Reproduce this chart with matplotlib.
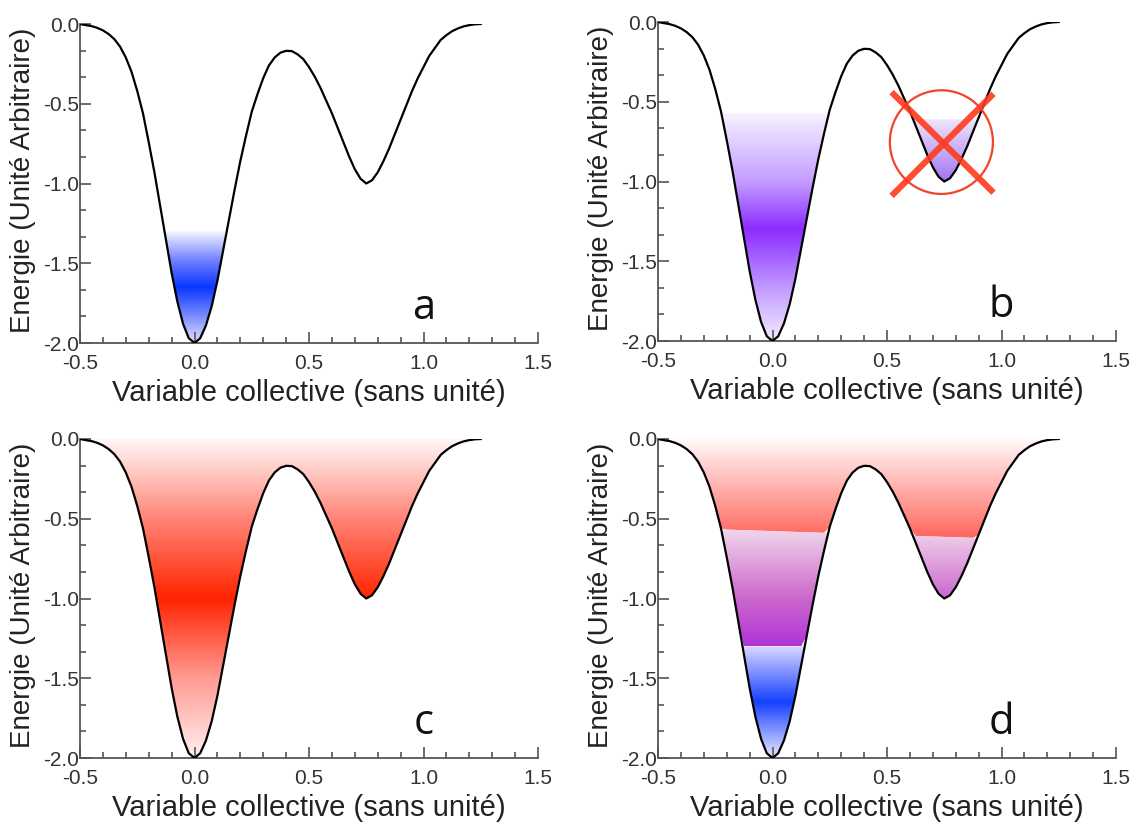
import numpy as np
import matplotlib.pyplot as plt
from matplotlib.colors import LinearSegmentedColormap
from matplotlib.path import Path
from matplotlib.patches import Ellipse
from matplotlib.ticker import MultipleLocator, FormatStrFormatter

plt.rcParams['font.family'] = ['Liberation Sans', 'DejaVu Sans']
plt.rcParams['axes.unicode_minus'] = False

# energy profile
curve_x = [-0.5, -0.475, -0.45, -0.425, -0.4, -0.375, -0.35, -0.325, -0.3, -0.275,
           -0.25, -0.225, -0.2, -0.175, -0.15, -0.125, -0.1, -0.075, -0.05, -0.025,
           0.0, 0.025, 0.05, 0.075, 0.1, 0.125, 0.15, 0.175, 0.2, 0.225,
           0.25, 0.275, 0.3, 0.325, 0.35, 0.375, 0.4, 0.425, 0.45, 0.475,
           0.5, 0.525, 0.55, 0.575, 0.6, 0.625, 0.65, 0.675, 0.7, 0.725,
           0.75, 0.775, 0.8, 0.825, 0.85, 0.875, 0.9, 0.925, 0.95, 0.975,
           1.0, 1.025, 1.05, 1.075, 1.1, 1.125, 1.15, 1.175, 1.2, 1.225, 1.25]
curve_y = [0.0, -0.007, -0.013, -0.024, -0.04, -0.063, -0.095, -0.142, -0.21, -0.30,
           -0.42, -0.56, -0.74, -0.93, -1.14, -1.35, -1.56, -1.74, -1.88, -1.97,
           -2.0, -1.97, -1.89, -1.77, -1.61, -1.42, -1.23, -1.04, -0.86, -0.70,
           -0.55, -0.44, -0.34, -0.26, -0.21, -0.18, -0.168, -0.17, -0.19, -0.22,
           -0.27, -0.33, -0.40, -0.48, -0.56, -0.65, -0.74, -0.83, -0.91, -0.97,
           -1.0, -0.98, -0.93, -0.86, -0.78, -0.69, -0.60, -0.51, -0.42, -0.34,
           -0.27, -0.20, -0.15, -0.10, -0.07, -0.045, -0.028, -0.015, -0.007, -0.002, 0.0]

barrier_x = 0.4

# fill levels
a_top = -1.3
b_top_left = -0.57
b_top_right = -0.61
d_blue_top = -1.3
d_red_left = (-0.26, -0.565)
d_red_right = (0.88, -0.62)

# colour stops (energy, colour)
a_levels = [-2.0, -1.82, -1.65, -1.48, -1.3]
a_colors = ['#e4e2ff', '#7385ff', '#0a36ff', '#7282ff', '#f4f5ff']
b_levels = [-2.0, -1.7, -1.3, -1.0, -0.57]
b_colors = ['#f3ecff', '#c6a2ff', '#8b2cff', '#c49dff', '#f8f3ff']
b2_levels = [-1.0, -0.61]
b2_colors = ['#a276f2', '#efe7fb']
c_levels = [-2.0, -1.5, -1.0, -0.5, 0.0]
c_colors = ['#fff0f0', '#ff9a92', '#ff2400', '#ff8476', '#fff7f6']
d_red_levels = [-0.62, 0.0]
d_red_colors = ['#ff665e', '#fff9f9']
d_pur_levels = [-1.3, -1.0, -0.57]
d_pur_colors = ['#b034d8', '#cc68cc', '#f1d6eb']
d_blue_levels = [-2.0, -1.65, -1.3]
d_blue_colors = ['#ece9ff', '#1540ff', '#dcd6ff']

cross_center = (0.7375, -0.753)
cross_size = (0.45, 0.65)
cross_lines = [((0.52, 0.965), (-0.44, -1.07)), ((0.52, 0.965), (-1.09, -0.45))]

letters = ['a', 'b', 'c', 'd']
letter_pos = (1.0, -1.78)

xs = np.array(curve_x)
ys = np.array(curve_y)


def gradient(ax, lower, upper, where, levels, colors):
    poly = ax.fill_between(xs, lower, upper, where=where, interpolate=True,
                           facecolor='none', edgecolor='none')
    clip = Path.make_compound_path(*poly.get_paths())
    poly.remove()
    lo, hi = levels[0], levels[-1]
    pos = [(v - lo) / (hi - lo) for v in levels]
    cmap = LinearSegmentedColormap.from_list('g', list(zip(pos, colors)))
    grad = np.linspace(0, 1, 400).reshape(-1, 1)
    im = ax.imshow(grad, cmap=cmap, extent=[-0.5, 1.5, lo, hi], origin='lower',
                   aspect='auto', interpolation='bilinear', zorder=1)
    im.set_clip_path(clip, transform=ax.transData)


def style(ax, letter):
    ax.plot(xs, ys, color='black', lw=1.6, zorder=3)
    ax.set_xlim(-0.5, 1.5)
    ax.set_ylim(-2.0, 0.0)
    ax.set_aspect('auto')
    for s in ['top', 'right']:
        ax.spines[s].set_visible(False)
    for s in ['left', 'bottom']:
        ax.spines[s].set_color('#555555')
        ax.spines[s].set_linewidth(1.3)
    ax.xaxis.set_major_locator(MultipleLocator(0.5))
    ax.xaxis.set_minor_locator(MultipleLocator(0.1))
    ax.yaxis.set_major_locator(MultipleLocator(0.5))
    ax.yaxis.set_minor_locator(MultipleLocator(0.5 / 3))
    ax.xaxis.set_major_formatter(FormatStrFormatter('%.1f'))
    ax.yaxis.set_major_formatter(FormatStrFormatter('%.1f'))
    ax.tick_params(which='both', direction='in', color='#555555', width=1.2,
                   labelcolor='#333333', labelsize=15)
    ax.tick_params(which='major', length=8)
    ax.tick_params(which='minor', length=4.5)
    ax.tick_params(axis='y', pad=0.5)
    ax.tick_params(axis='x', pad=8)
    ax.set_ylabel('Energie (Unité Arbitraire)', fontsize=20, color='#222222')
    ax.set_xlabel('Variable collective (sans unité)', fontsize=21, color='#222222')
    ax.yaxis.set_label_coords(-0.096, 0.51)
    ax.xaxis.set_label_coords(0.5, -0.112)
    ax.text(letter_pos[0], letter_pos[1], letter, fontsize=30, family='Open Sans',
            ha='center', va='center', color='#111111')


fig = plt.figure(figsize=(11.43, 8.23), dpi=100)
W, H = 1143, 823
boxes = [(80, 24), (658, 22), (80, 439), (658, 439)]
pw, ph = 458, 319
axes = [fig.add_axes([l / W, 1 - (t + ph) / H, pw / W, ph / H]) for l, t in boxes]

# a
ax = axes[0]
gradient(ax, ys, a_top, ys <= a_top, a_levels, a_colors)

# b
ax = axes[1]
gradient(ax, ys, b_top_left, (ys <= b_top_left) & (xs < barrier_x), b_levels, b_colors)
gradient(ax, ys, b_top_right, (ys <= b_top_right) & (xs > barrier_x), b2_levels, b2_colors)
ax.add_patch(Ellipse(cross_center, cross_size[0], cross_size[1], fill=False,
                     ec='#f0442c', lw=1.6, zorder=5))
for lx, ly in cross_lines:
    ax.plot(lx, ly, color='#ff3a1e', lw=4.5, alpha=0.9, solid_capstyle='butt', zorder=6)

# c
ax = axes[2]
gradient(ax, ys, 0.0, ys <= 0.0, c_levels, c_colors)

# d
ax = axes[3]
slope = (d_red_right[1] - d_red_left[1]) / (d_red_right[0] - d_red_left[0])
border = d_red_left[1] + slope * (xs - d_red_left[0])
upper = np.maximum(ys, border)
gradient(ax, upper, 0.0, upper < 0.0, d_red_levels, d_red_colors)
low = np.maximum(ys, d_blue_top)
gradient(ax, low, border, low < border, d_pur_levels, d_pur_colors)
gradient(ax, ys, d_blue_top, ys <= d_blue_top, d_blue_levels, d_blue_colors)

for ax, letter in zip(axes, letters):
    style(ax, letter)

fig.savefig('out.png', dpi=100)
